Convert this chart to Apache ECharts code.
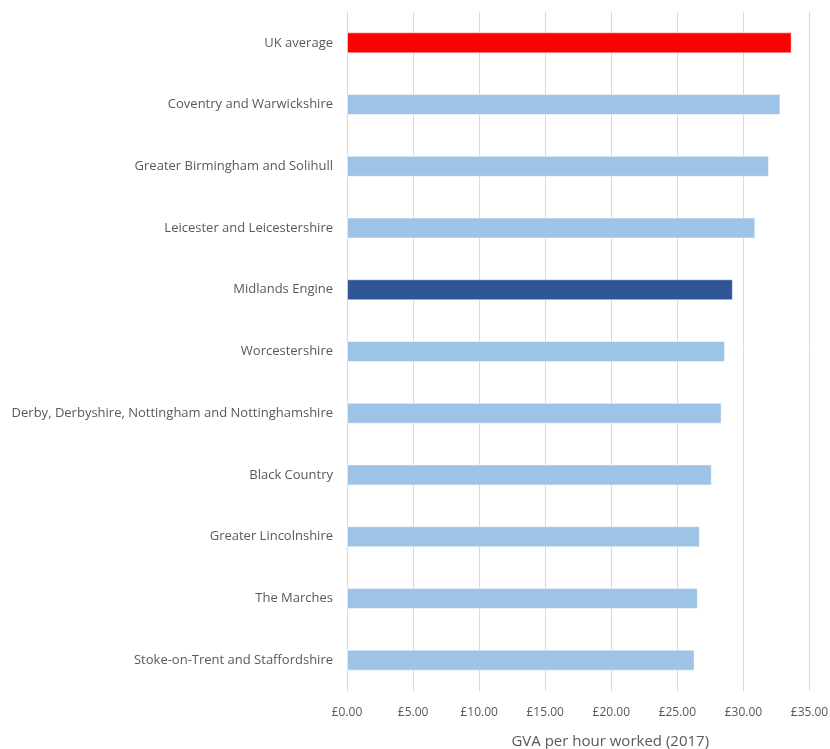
<!DOCTYPE html>
<html>
<head>
<meta charset="utf-8">
<script src="https://cdn.jsdelivr.net/npm/echarts@6/dist/echarts.min.js"></script>
<style>html,body{margin:0;padding:0;background:#fff;}#c{width:830px;height:749px;}</style>
</head>
<body>
<div id="c"></div>
<script>
const categories = ["UK average","Coventry and Warwickshire","Greater Birmingham and Solihull","Leicester and Leicestershire","Midlands Engine","Worcestershire","Derby, Derbyshire, Nottingham and Nottinghamshire","Black Country","Greater Lincolnshire","The Marches","Stoke-on-Trent and Staffordshire"];
const values = [33.65, 32.8, 31.93, 30.9, 29.2, 28.6, 28.35, 27.6, 26.7, 26.55, 26.3];
const barColors = ["#FF0000","#9DC3E6","#9DC3E6","#9DC3E6","#2F5597","#9DC3E6","#9DC3E6","#9DC3E6","#9DC3E6","#9DC3E6","#9DC3E6"];
const axisTitle = "GVA per hour worked (2017)";

const chart = echarts.init(document.getElementById('c'), null, {renderer:'canvas'});
chart.setOption({
  animation:false,
  backgroundColor:'#fff',
  grid:{left:347, right:20.5, top:12, bottom:58, containLabel:false, outerBoundsMode:'none'},
  xAxis:{
    type:'value', min:0, max:35, interval:5,
    axisLine:{show:false}, axisTick:{show:false},
    splitLine:{show:true, lineStyle:{color:'#D9D9D9', width:1}},
    axisLabel:{color:'#595959', fontFamily:'Open Sans', fontSize:12, margin:16,
      formatter:v=>'£'+v.toFixed(2)},
    name:axisTitle, nameLocation:'middle', nameGap:43,
    nameTextStyle:{color:'#595959', fontFamily:'Open Sans', fontSize:15, padding:[0,0,0,64]}
  },
  yAxis:{
    type:'category', data:categories, inverse:true,
    axisLine:{show:false}, axisTick:{show:false}, splitLine:{show:false},
    axisLabel:{color:'#595959', fontFamily:'Open Sans', fontSize:13, margin:14}
  },
  series:[{
    type:'bar', barWidth:21,
    data:values.map((v,i)=>({value:v, itemStyle:{color:barColors[i]}})),
    itemStyle:{borderColor:'rgba(255,255,255,0.5)', borderWidth:1}
  }]
});
</script>
</body>
</html>
